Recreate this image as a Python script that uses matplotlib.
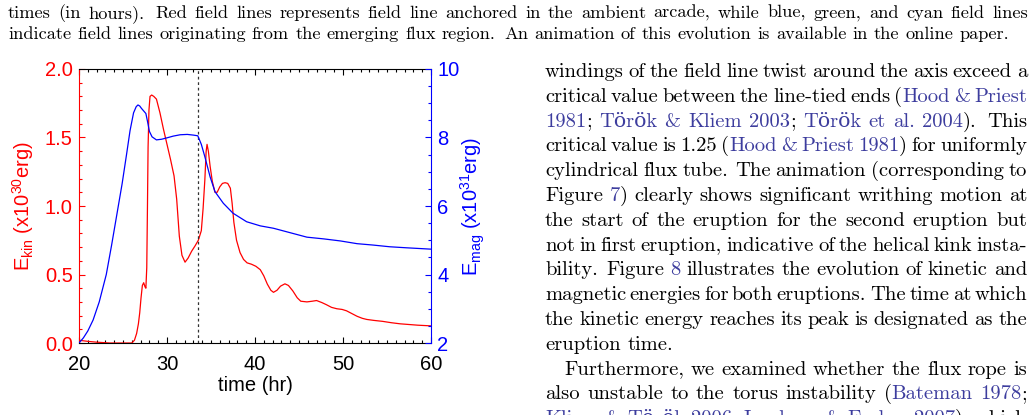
import matplotlib
matplotlib.use('Agg')
import matplotlib.pyplot as plt
from matplotlib.transforms import IdentityTransform
from matplotlib.ticker import MultipleLocator

# kinetic energy (1e30 erg) vs time (hr)
time_kin = [20.0, 21.0, 22.0, 23.5, 25.0, 26.0, 26.3, 26.55, 26.75, 26.9, 27.05, 27.2, 27.35,
            27.5, 27.6, 27.7, 27.78, 27.85, 27.95, 28.07, 28.26, 28.5, 28.8, 29.2, 29.6, 30.0,
            30.4, 30.8, 31.1, 31.4, 31.7, 32.05, 32.4, 32.8, 33.2, 33.56, 33.9, 34.1, 34.3,
            34.45, 34.55, 34.7, 34.9, 35.15, 35.45, 35.7, 36.0, 36.3, 36.6, 36.9, 37.2, 37.4,
            37.6, 37.9, 38.3, 38.7, 39.1, 39.6, 40.1, 40.6, 41.0, 41.4, 41.8, 42.1, 42.5, 42.9,
            43.4, 43.8, 44.3, 44.8, 45.2, 45.9, 46.5, 47.0, 47.6, 48.1, 48.7, 49.3, 49.9, 50.4,
            51.0, 51.6, 52.2, 52.7, 53.5, 54.5, 55.5, 56.5, 57.5, 58.5, 60.0]
e_kin = [0.02, 0.012, 0.006, 0.0, 0.0, 0.0, 0.02, 0.07, 0.14, 0.22, 0.33, 0.42, 0.44,
         0.41, 0.40, 0.55, 1.0, 1.43, 1.70, 1.80, 1.81, 1.80, 1.78, 1.68, 1.56, 1.45,
         1.34, 1.22, 1.05, 0.78, 0.64, 0.59, 0.62, 0.67, 0.71, 0.75, 0.82, 0.98, 1.19,
         1.40, 1.45, 1.40, 1.29, 1.18, 1.10, 1.10, 1.14, 1.165, 1.17, 1.165, 1.13, 1.02,
         0.88, 0.75, 0.66, 0.61, 0.585, 0.575, 0.56, 0.535, 0.49, 0.43, 0.385, 0.37, 0.385, 0.415,
         0.432, 0.42, 0.38, 0.33, 0.305, 0.30, 0.305, 0.31, 0.295, 0.28, 0.26, 0.25, 0.245, 0.235,
         0.215, 0.195, 0.18, 0.172, 0.165, 0.158, 0.148, 0.14, 0.135, 0.13, 0.125]

# magnetic energy (1e31 erg) vs time (hr)
time_mag = [20.0, 20.5, 21.0, 21.6, 22.3, 23.1, 23.7, 24.3, 24.9, 25.4, 25.8, 26.2, 26.5,
            26.7, 26.9, 27.1, 27.4, 27.6, 27.8, 28.0, 28.3, 28.8, 29.4, 30.0, 30.7, 31.5,
            32.3, 33.0, 33.5, 33.9, 34.3, 34.9, 35.45, 36.4, 37.5, 39.05, 40.6, 42.1, 44.0,
            45.9, 47.8, 49.7, 51.6, 53.4, 55.3, 57.2, 60.0]
e_mag = [2.0, 2.15, 2.35, 2.67, 3.2, 4.0, 4.85, 5.75, 6.65, 7.5, 8.2, 8.72, 8.9,
         8.95, 8.92, 8.85, 8.76, 8.70, 8.45, 8.18, 8.02, 7.93, 7.95, 7.99, 8.04, 8.08,
         8.09, 8.07, 8.05, 7.8, 7.44, 6.85, 6.42, 6.08, 5.79, 5.54, 5.42, 5.35, 5.22,
         5.09, 5.04, 4.98, 4.90, 4.86, 4.81, 4.78, 4.74]

t_eruption = 33.5

caption_lines = [
    "times (in hours).  Red field lines represents field line anchored in the ambient arcade, while blue, green, and cyan field lines",
    "indicate field lines originating from the emerging flux region.  An animation of this evolution is available in the online paper.",
]
caption_ragged = [1]

# [ ] marks linked (coloured) text
body_lines = [
    "windings of the field line twist around the axis exceed a",
    "critical value between the line-tied ends ([Hood & Priest]",
    "[1981]; [Török & Kliem 2003]; [Török et al. 2004]).  This",
    "critical value is 1.25 ([Hood & Priest 1981]) for uniformly",
    "cylindrical flux tube.  The animation (corresponding to",
    "Figure [7]) clearly shows significant writhing motion at",
    "the start of the eruption for the second eruption but",
    "not in first eruption, indicative of the helical kink insta-",
    "bility.  Figure [8] illustrates the evolution of kinetic and",
    "magnetic energies for both eruptions.  The time at which",
    "the kinetic energy reaches its peak is designated as the",
    "eruption time.",
    "Furthermore, we examined whether the flux rope is",
    "also unstable to the torus instability ([Bateman 1978];",
    "[Kliem & Török 2006]; [Isenberg & Forbes 2007]), which",
]
body_ragged = [11]
body_indent = [12]

LINK = '#3d3d9e'
SERIF = ['cmr10', 'DejaVu Serif']
SANS = 'Liberation Sans'

plt.rcParams['font.family'] = SANS
plt.rcParams['mathtext.fontset'] = 'custom'
plt.rcParams['mathtext.rm'] = SANS
plt.rcParams['mathtext.it'] = SANS + ':italic'
plt.rcParams['axes.linewidth'] = 0.8

W, H = 1035, 415
fig = plt.figure(figsize=(W / 100, H / 100), dpi=100)
renderer = fig.canvas.get_renderer()
px = IdentityTransform()


def parse(line):
    words, gaps = [[]], []
    buf, link = '', False
    for ch in line:
        if ch in '[] ' and buf:
            words[-1].append((buf, link))
            buf = ''
        if ch == '[':
            link = True
        elif ch == ']':
            link = False
        elif ch == ' ':
            if words[-1]:
                words.append([])
                gaps.append(1)
            else:
                gaps[-1] += 1
        else:
            buf += ch
    if buf:
        words[-1].append((buf, link))
    return words, gaps


def set_line(line, x0, x1, ybase, size, justify=True):
    words, gaps = parse(line)
    placed, total = [], 0.0
    for w in words:
        runs = []
        for txt, lk in w:
            t = fig.text(0, 0, txt, transform=px, fontsize=size, family=SERIF,
                         color=LINK if lk else 'black', va='baseline', ha='left')
            wd = t.get_window_extent(renderer).width
            runs.append((t, wd))
            total += wd
        placed.append(runs)
    weights = [1.0 if g == 1 else 1.4 for g in gaps]
    unit = 0.333 * size / 0.72
    if justify and gaps:
        unit = (x1 - x0 - total) / sum(weights)
    x = x0
    for i, runs in enumerate(placed):
        for t, wd in runs:
            t.set_position((x, H - ybase))
            x += wd
        if i < len(gaps):
            x += unit * weights[i]


for i, line in enumerate(caption_lines):
    set_line(line, 8, 1028, 18 + 21 * i, 13.2, justify=i not in caption_ragged)

for i, line in enumerate(body_lines):
    x0 = 564 if i in body_indent else 545
    set_line(line, x0, 1027, 77 + 24.8 * i, 14.8, justify=i not in body_ragged)

# chart
ax = fig.add_axes([79 / W, 1 - 343 / H, 352 / W, 274 / H])
ax.plot(time_kin, e_kin, color='red', lw=0.9)
ax.axvline(t_eruption, color='#333333', lw=0.9, ls=(0, (2.2, 2.2)))
ax.set_xlim(20, 60)
ax.set_ylim(0, 2)

ax2 = ax.twinx()
ax2.plot(time_mag, e_mag, color='blue', lw=0.9)
ax2.set_ylim(2, 10)

ax.xaxis.set_major_locator(MultipleLocator(10))
ax.xaxis.set_minor_locator(MultipleLocator(1))
ax.yaxis.set_major_locator(MultipleLocator(0.5))
ax.yaxis.set_minor_locator(MultipleLocator(0.1))
ax2.yaxis.set_major_locator(MultipleLocator(2))
ax2.yaxis.set_minor_locator(MultipleLocator(0.5))

ax.tick_params(axis='x', which='both', direction='in', top=True, bottom=True,
               labelsize=14.5, pad=8.5, width=0.8)
ax.tick_params(axis='y', which='both', direction='in', colors='red', right=False,
               labelsize=14.5, pad=4.5, width=0.8)
ax2.tick_params(axis='y', which='both', direction='in', colors='blue',
                labelsize=14.5, pad=4.5, width=0.8)
for a in (ax, ax2):
    a.tick_params(which='major', length=4.5)
    a.tick_params(which='minor', length=2.3)

ax.spines['left'].set_color('red')
ax.spines['right'].set_visible(False)
ax2.spines['right'].set_color('blue')
for s in ('left', 'top', 'bottom'):
    ax2.spines[s].set_visible(False)

ax.set_xlabel('time (hr)', fontsize=14.5)
ax.set_ylabel(r'E$_{\rm kin}$ (x10$^{30}$erg)', color='red', fontsize=14.5)
ax2.set_ylabel(r'E$_{\rm mag}$ (x10$^{31}$erg)', color='blue', fontsize=14.5)
ax.xaxis.set_label_coords(0.5, -0.155)
ax.xaxis.label.set_va('center')
ax.yaxis.set_label_coords(-0.159, 0.5)
ax.yaxis.label.set_va('center')
ax2.yaxis.set_label_coords(1.118, 0.5)
ax2.yaxis.label.set_va('center')

fig.savefig('out.png', dpi=100)
